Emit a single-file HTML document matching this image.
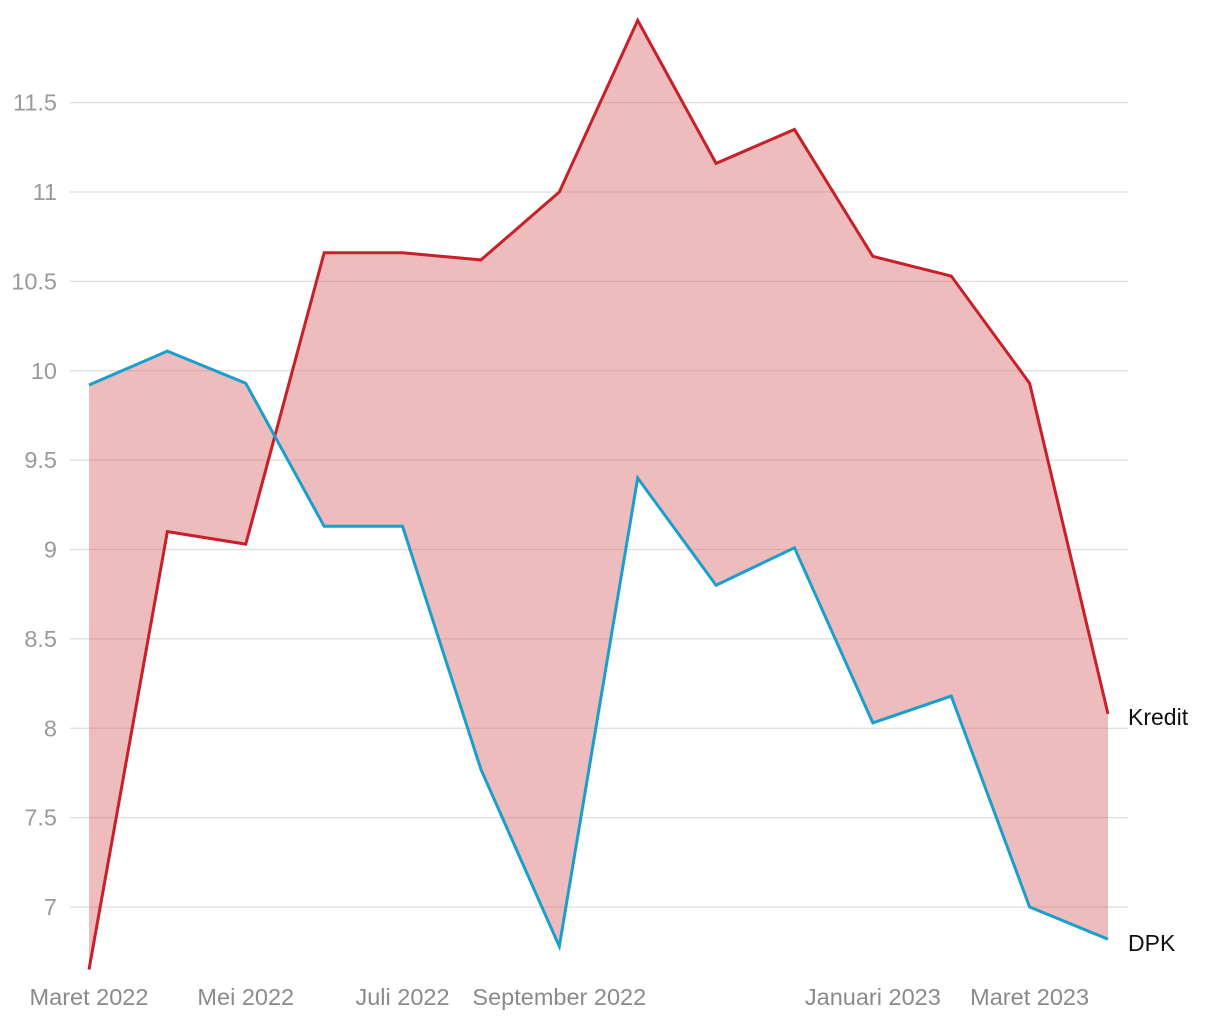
<!DOCTYPE html>
<html><head><meta charset="utf-8"><style>
body{margin:0;background:#fff;}
svg{display:block;font-family:"Liberation Sans",Roboto,sans-serif;}
</style></head><body>
<svg id="chart" width="1220" height="1020"></svg>
<script>
const months = ["Maret 2022","April 2022","Mei 2022","Juni 2022","Juli 2022","Agustus 2022","September 2022","Oktober 2022","November 2022","Desember 2022","Januari 2023","Februari 2023","Maret 2023","April 2023"];
const kredit = [6.65,9.10,9.03,10.66,10.66,10.62,11.0,11.96,11.16,11.35,10.64,10.53,9.93,8.08];
const dpk = [9.92,10.11,9.93,9.13,9.13,7.77,6.78,9.40,8.80,9.01,8.03,8.18,7.0,6.82];
const yTicks = [7,7.5,8,8.5,9,9.5,10,10.5,11,11.5];
const yTickLabels = ["7","7.5","8","8.5","9","9.5","10","10.5","11","11.5"];
const xTickIdx = [0,2,4,6,10,12];

const NS="http://www.w3.org/2000/svg";
const svg=document.getElementById('chart');
const x=i=>89+i*(1108-89)/(months.length-1);
const y=v=>907-(v-7)*178.75;
function mk(t,a,p){const e=document.createElementNS(NS,t);for(const k in a)e.setAttribute(k,a[k]);(p||svg).appendChild(e);return e;}

yTicks.forEach((v,i)=>{
  const g=mk('line',{x1:70,x2:1128,y1:y(v),y2:y(v),stroke:'#dcdcdc','stroke-width':1.3});
  
  
  const t=mk('text',{x:57,y:y(v)+8,'text-anchor':'end','font-size':23.5,fill:'#9a9a9a'});
  t.textContent=yTickLabels[i];
  
  
});
xTickIdx.forEach(i=>{
  const t=mk('text',{x:x(i),y:1005,'text-anchor':'middle','font-size':23.5,fill:'#8a8a8a'});
  t.textContent=months[i];
  
  
});
let pts=kredit.map((v,i)=>x(i)+','+y(v));
let back=dpk.map((v,i)=>x(i)+','+y(v)).reverse();
const area=mk('polygon',{points:pts.concat(back).join(' '),fill:'#d96b6b','fill-opacity':0.45});


const lk=mk('polyline',{points:pts.join(' '),fill:'none',stroke:'#c8202a','stroke-width':3,'stroke-linejoin':'miter'});


const ld=mk('polyline',{points:dpk.map((v,i)=>x(i)+','+y(v)).join(' '),fill:'none',stroke:'#1a9fcc','stroke-width':3});


const n=months.length-1;
const tk=mk('text',{x:1128,y:y(kredit[n])+11,'font-size':23,fill:'#111'});
tk.textContent='Kredit';


const td=mk('text',{x:1128,y:y(dpk[n])+12,'font-size':23,fill:'#111'});
td.textContent='DPK';


</script>
</body></html>
